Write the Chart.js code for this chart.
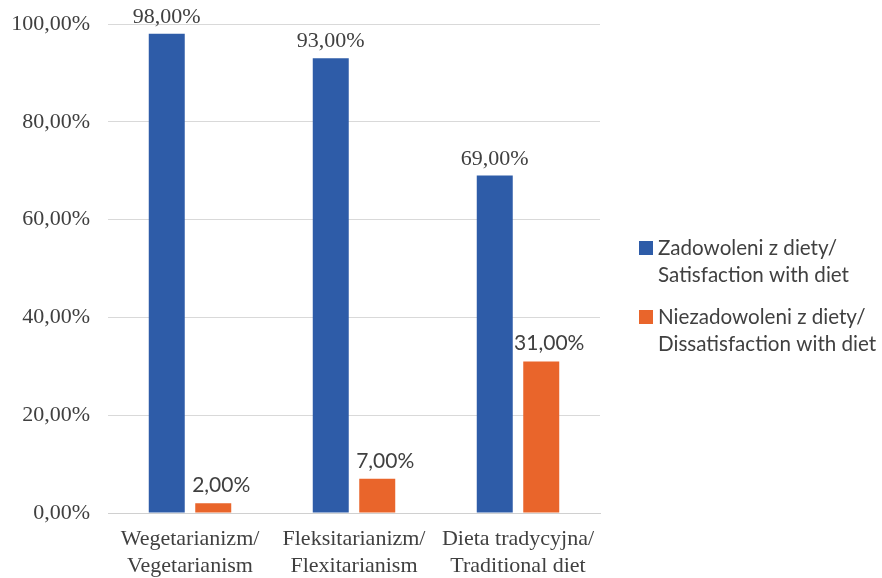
<!DOCTYPE html>
<html>
<head>
<meta charset="utf-8">
<script src="https://cdn.jsdelivr.net/npm/chart.js@4.4.1/dist/chart.umd.min.js"></script>
<style>
  html, body { margin: 0; padding: 0; background: #ffffff; }
  #wrap { width: 882px; height: 578px; }
</style>
</head>
<body>
<div id="wrap"><canvas id="chart" width="882" height="578"></canvas></div>
<script>
// Diet groups (Polish / English)
const categories = [
  ['Wegetarianizm/', 'Vegetarianism'],
  ['Fleksitarianizm/', 'Flexitarianism'],
  ['Dieta tradycyjna/', 'Traditional diet']
];
const seriesNames = [
  ['Zadowoleni z diety/', 'Satisfaction with diet'],
  ['Niezadowoleni z diety/', 'Dissatisfaction with diet']
];
// Share of respondents, percent
const satisfied = [98, 93, 69];
const dissatisfied = [2, 7, 31];
const yTicks = [0, 20, 40, 60, 80, 100];

const COLORS = ['#2E5CA8', '#E9652B'];
const TEXT = '#404040';
const SERIF = '"Liberation Serif", "Times New Roman", serif';
const SANS = 'Lato, "Liberation Sans", sans-serif';

const fmt = v => v.toFixed(2).replace('.', ',') + '%';

// Value labels above each bar
const valueLabels = {
  id: 'valueLabels',
  afterDatasetsDraw(chart) {
    const ctx = chart.ctx;
    ctx.save();
    ctx.fillStyle = TEXT;
    ctx.textAlign = 'center';
    ctx.textBaseline = 'alphabetic';
    chart.data.datasets.forEach((ds, di) => {
      const meta = chart.getDatasetMeta(di);
      ctx.font = di === 0 ? '22px ' + SERIF : '21px ' + SANS;
      const dx = di === 0 ? 0 : 8;
      meta.data.forEach((bar, i) => {
        ctx.fillText(fmt(ds.data[i]), bar.x + dx, bar.y - 11);
      });
    });
    ctx.restore();
  }
};

// Legend on the right with two-line entries
const sideLegend = {
  id: 'sideLegend',
  afterDraw(chart) {
    const ctx = chart.ctx;
    const x = 639, lineH = 27;
    const tops = [248, 317];
    ctx.save();
    ctx.font = '20.6px ' + SANS;
    ctx.textBaseline = 'middle';
    ctx.textAlign = 'left';
    chart.data.datasets.forEach((ds, di) => {
      const y = tops[di];
      ctx.fillStyle = ds.backgroundColor;
      ctx.fillRect(x, y - 7, 14, 14);
      ctx.fillStyle = TEXT;
      ds.label.forEach((line, li) => ctx.fillText(line, x + 19, y + li * lineH));
    });
    ctx.restore();
  }
};

new Chart(document.getElementById('chart'), {
  type: 'bar',
  data: {
    labels: categories,
    datasets: [
      { label: seriesNames[0], data: satisfied, backgroundColor: COLORS[0],
        categoryPercentage: 0.567, barPercentage: 0.774 },
      { label: seriesNames[1], data: dissatisfied, backgroundColor: COLORS[1],
        categoryPercentage: 0.567, barPercentage: 0.774 }
    ]
  },
  options: {
    responsive: false,
    animation: false,
    layout: { padding: { top: 24, right: 282, bottom: 0, left: 0 } },
    plugins: {
      legend: { display: false },
      tooltip: { enabled: false }
    },
    scales: {
      x: {
        afterFit(scale) { scale.height = 65; scale.paddingLeft = 0; scale.paddingRight = 0; },
        grid: { display: false, drawTicks: false },
        border: { display: true, color: '#D0D0D0', width: 1 },
        ticks: {
          color: TEXT,
          padding: 13,
          maxRotation: 0,
          autoSkip: false,
          font: { family: SERIF, size: 22, lineHeight: '27px' }
        }
      },
      y: {
        min: 0,
        max: 100,
        afterFit(scale) { scale.width = 108; scale.paddingTop = 0; scale.paddingBottom = 0; },
        afterBuildTicks(scale) { scale.ticks = yTicks.map(v => ({ value: v })); },
        grid: { color: '#D9D9D9', drawTicks: false, lineWidth: 1 },
        border: { display: false },
        ticks: {
          color: TEXT,
          padding: 18,
          font: { family: SERIF, size: 22 },
          callback: v => fmt(v)
        }
      }
    }
  },
  plugins: [valueLabels, sideLegend]
});
</script>
</body>
</html>
